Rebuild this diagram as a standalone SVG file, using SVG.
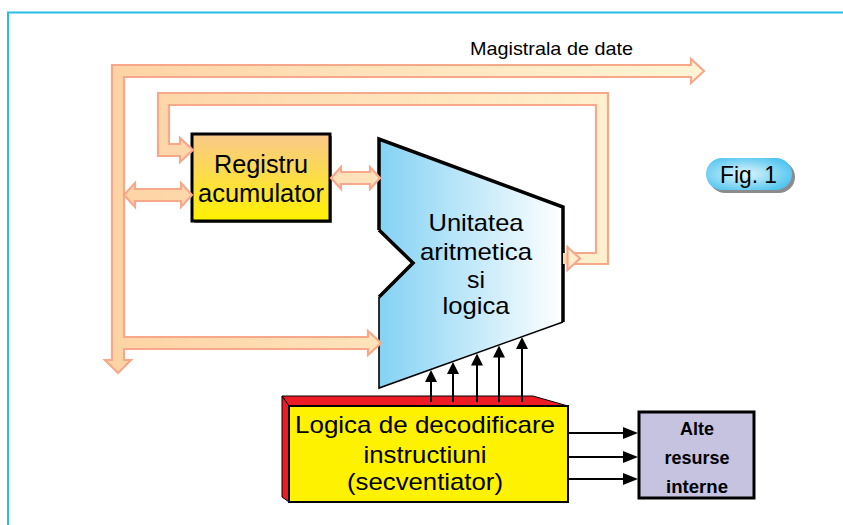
<svg xmlns="http://www.w3.org/2000/svg" width="843" height="525" viewBox="0 0 843 525">
<defs>
<linearGradient id="busGrad" gradientUnits="userSpaceOnUse" x1="110" y1="0" x2="710" y2="0">
<stop offset="0" stop-color="#fdd3a4"/>
<stop offset="1" stop-color="#fff6d6"/>
</linearGradient>
<linearGradient id="regGrad" x1="0" y1="0" x2="0" y2="1">
<stop offset="0" stop-color="#f9c88c"/>
<stop offset="1" stop-color="#fff200"/>
</linearGradient>
<linearGradient id="aluGrad" x1="0" y1="0" x2="1" y2="0">
<stop offset="0" stop-color="#84d2f4"/>
<stop offset="1" stop-color="#ffffff"/>
</linearGradient>
<radialGradient id="pillGrad" cx="0.45" cy="0.5" r="0.6">
<stop offset="0" stop-color="#e2f6fd"/>
<stop offset="1" stop-color="#4fc4ef"/>
</radialGradient>
<marker id="ah" viewBox="0 0 12 12" refX="3" refY="6" markerWidth="12" markerHeight="12" markerUnits="userSpaceOnUse" orient="auto">
<path d="M0,0 L12,6 L0,12 z" fill="#000"/>
</marker>
<marker id="ah2" viewBox="0 0 15 12" refX="3" refY="6" markerWidth="15" markerHeight="12" markerUnits="userSpaceOnUse" orient="auto">
<path d="M0,0 L15,6 L0,12 z" fill="#000"/>
</marker>
</defs>
<style>
.bus{fill:url(#busGrad);stroke:#f7a88b;stroke-width:2.2;stroke-linejoin:miter}
.txt{font-family:"Liberation Sans",Arial,sans-serif;fill:#000}
.ctl{stroke:#000;stroke-width:2;fill:none}
.frame{stroke:#2bbde9;stroke-width:2;fill:none}
</style>
<rect x="0" y="0" width="843" height="525" fill="#ffffff"/>
<path class="frame" d="M8,525 L8,12.5 L843,12.5"/>

<text class="txt" x="470" y="55" font-size="19" textLength="163" lengthAdjust="spacingAndGlyphs">Magistrala de date</text>

<g id="register">
<rect x="194" y="136" width="138" height="87" fill="#777"/>
<rect x="192" y="134" width="138" height="87" fill="url(#regGrad)" stroke="#000" stroke-width="3"/>
<text class="txt" x="261" y="173" font-size="25" text-anchor="middle" textLength="94" lengthAdjust="spacingAndGlyphs">Registru</text>
<text class="txt" x="261" y="202" font-size="25" text-anchor="middle" textLength="126" lengthAdjust="spacingAndGlyphs">acumulator</text>
</g>

<g id="alu">
<polygon points="379,139 563,207 563,322 379,388 379,297 413,263 379,230" fill="url(#aluGrad)"/>
<path d="M379,230 L379,139 L563,207 L563,322" fill="none" stroke="#000" stroke-width="3.5" stroke-linejoin="miter"/>
<path d="M379,230 L413,263 L379,297" fill="none" stroke="#000" stroke-width="3.5"/>
<path d="M563,322 L379,388 L379,297" fill="none" stroke="#000" stroke-width="1.6"/>
<text class="txt" x="476" y="231" font-size="24" text-anchor="middle" textLength="95" lengthAdjust="spacingAndGlyphs">Unitatea</text>
<text class="txt" x="476" y="259.5" font-size="24" text-anchor="middle" textLength="112" lengthAdjust="spacingAndGlyphs">aritmetica</text>
<text class="txt" x="476" y="287.5" font-size="24" text-anchor="middle" textLength="18" lengthAdjust="spacingAndGlyphs">si</text>
<text class="txt" x="476" y="314" font-size="24" text-anchor="middle" textLength="67" lengthAdjust="spacingAndGlyphs">logica</text>
</g>

<g id="decoder">
<polygon points="282,396 533,396 568,406 289,406" fill="#ed1c24" stroke="#000" stroke-width="1"/>
<polygon points="282,396 289,406 289,502 282,497" fill="#ed1c24" stroke="#000" stroke-width="1"/>
<rect x="289" y="406" width="279" height="96" fill="#fff200" stroke="#000" stroke-width="2"/>
<text class="txt" x="425" y="433" font-size="24" text-anchor="middle" textLength="260" lengthAdjust="spacingAndGlyphs">Logica de decodificare</text>
<text class="txt" x="425" y="463" font-size="24" text-anchor="middle" textLength="123" lengthAdjust="spacingAndGlyphs">instructiuni</text>
<text class="txt" x="425" y="490" font-size="24" text-anchor="middle" textLength="156" lengthAdjust="spacingAndGlyphs">(secventiator)</text>
</g>

<g id="other-resources">
<rect x="639" y="412" width="115" height="86" fill="#c6c3e0" stroke="#000" stroke-width="3"/>
<text class="txt" x="697" y="435" font-size="19" font-weight="bold" text-anchor="middle" textLength="34" lengthAdjust="spacingAndGlyphs">Alte</text>
<text class="txt" x="697" y="463.5" font-size="19" font-weight="bold" text-anchor="middle" textLength="65" lengthAdjust="spacingAndGlyphs">resurse</text>
<text class="txt" x="697" y="492.5" font-size="19" font-weight="bold" text-anchor="middle" textLength="62" lengthAdjust="spacingAndGlyphs">interne</text>
</g>

<g id="fig-label">
<rect x="709" y="161" width="86" height="32" rx="16" fill="#8c8c8c"/>
<rect x="706" y="158" width="86" height="32" rx="16" fill="url(#pillGrad)"/>
<text class="txt" x="748.5" y="183" font-size="24" text-anchor="middle" textLength="57" lengthAdjust="spacingAndGlyphs">Fig. 1</text>
</g>

<g id="connectors">
<polygon class="bus" points="112,65 691,65 691,59 704,71 691,83 691,77 124,77 124,337 368,337 368,331 381,343 368,355 368,349 124,349 124,360 131,360 118,373 105,360 112,360"/>
<polygon class="bus" points="158,93 608,93 608,264 574,264 574,253 596,253 596,105 169,105 169,144 180,144 180,138 193,150 180,162 180,156 158,156"/>
<rect x="563" y="253" width="5" height="11" fill="#fdd9a8"/>
<polygon class="bus" points="567.5,247 580,258.5 567.5,270"/>
<polygon class="bus" points="124,195 135,183 135,189 181,189 181,183 192,195 181,207 181,201 135,201 135,207"/>
<polygon class="bus" points="331,178 341,167 341,172 370,172 370,167 380,178 370,189 370,184 341,184 341,189"/>
<line class="ctl" x1="431" y1="402" x2="431" y2="379" marker-end="url(#ah)"/>
<line class="ctl" x1="453" y1="402" x2="453" y2="371" marker-end="url(#ah)"/>
<line class="ctl" x1="477" y1="402" x2="477" y2="362.5" marker-end="url(#ah)"/>
<line class="ctl" x1="499" y1="402" x2="499" y2="354.5" marker-end="url(#ah)"/>
<line class="ctl" x1="522" y1="402" x2="522" y2="346" marker-end="url(#ah)"/>
<line class="ctl" x1="568" y1="433" x2="626" y2="433" marker-end="url(#ah2)"/>
<line class="ctl" x1="568" y1="457" x2="626" y2="457" marker-end="url(#ah2)"/>
<line class="ctl" x1="568" y1="479" x2="626" y2="479" marker-end="url(#ah2)"/>
</g>
</svg>
